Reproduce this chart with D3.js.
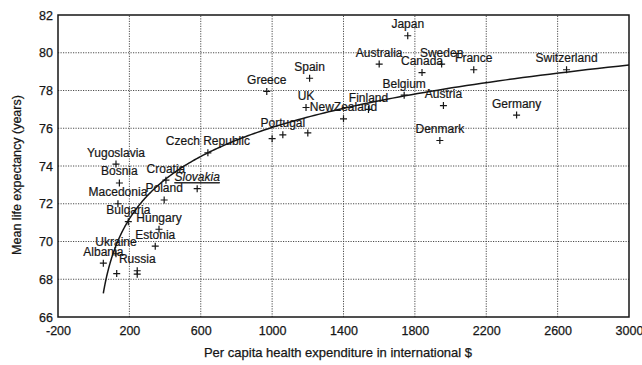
<!DOCTYPE html>
<html>
<head>
<meta charset="utf-8">
<script src="https://cdn.jsdelivr.net/npm/d3@7"></script>
<style>
  html, body { margin: 0; padding: 0; background: #fff; }
  svg { display: block; font-family: "Liberation Sans", Arial, sans-serif; }
</style>
</head>
<body>
<svg id="chart" width="642" height="365"></svg>
<script>
// Countries: per capita health expenditure (international $) and mean life expectancy (years)
const countries = ["Japan", "Australia", "Sweden", "Canada", "France", "Switzerland",
  "Belgium", "Finland", "Austria", "Denmark", "Germany", "Spain", "Greece", "UK",
  "NewZealand", "Portugal", "Czech Republic", "Yugoslavia", "Bosnia", "Croatia",
  "Slovakia", "Poland", "Macedonia", "Bulgaria", "Hungary", "Estonia", "Ukraine",
  "Albania", "Russia", "", "", "", ""];
const expenditure = [1760, 1600, 1950, 1840, 2130, 2650,
  1740, 1540, 1960, 1940, 2370, 1210, 970, 1190,
  1400, 1060, 640, 125, 144, 405,
  580, 395, 136, 194, 366, 345, 125,
  54, 244, 244, 129, 1000, 1200];
const lifeExpectancy = [80.9, 79.4, 79.4, 78.95, 79.1, 79.1,
  77.75, 77.0, 77.2, 75.35, 76.7, 78.65, 77.95, 77.1,
  76.5, 75.65, 74.7, 74.1, 73.1, 73.25,
  72.8, 72.2, 72.0, 71.05, 70.65, 69.75, 69.35,
  68.85, 68.45, 68.27, 68.3, 75.45, 75.75];

// Logarithmic trend: life = intercept + slope * ln(expenditure)
const trendIntercept = 55.25;
const trendSlope = 3.01;
const trendRange = [54, 3000];

// Axis ticks
const xTicks = [-200, 200, 600, 1000, 1400, 1800, 2200, 2600, 3000];
const yTicks = [66, 68, 70, 72, 74, 76, 78, 80, 82];

const margin = { left: 58, top: 15, right: 13, bottom: 48 };
const W = 642, H = 365;
const svg = d3.select("#chart");

const x = d3.scaleLinear().domain([-200, 3000]).range([margin.left, W - margin.right]);
const y = d3.scaleLinear().domain([66, 82]).range([H - margin.bottom, margin.top]);

const ink = "#161616";

// Dotted grid
const grid = svg.append("g");
grid.selectAll("line.h").data(yTicks.slice(1, -1)).join("line")
  .attr("x1", x(-200)).attr("x2", x(3000))
  .attr("y1", d => y(d)).attr("y2", d => y(d))
  .attr("stroke", "#3a3a3a").attr("stroke-width", 0.9)
  .attr("stroke-dasharray", "1.2,1.3");
grid.selectAll("line.v").data(xTicks.slice(1, -1)).join("line")
  .attr("y1", y(66)).attr("y2", y(82))
  .attr("x1", d => x(d)).attr("x2", d => x(d))
  .attr("stroke", "#3a3a3a").attr("stroke-width", 0.9)
  .attr("stroke-dasharray", "1.2,1.3");

// Axes (labels only; the frame is drawn separately)
const xAxis = svg.append("g")
  .attr("transform", `translate(0,${y(66)})`)
  .call(d3.axisBottom(x).tickValues(xTicks).tickSize(0).tickPadding(9).tickFormat(d => String(d)));
const yAxis = svg.append("g")
  .attr("transform", `translate(${x(-200)},0)`)
  .call(d3.axisLeft(y).tickValues(yTicks).tickSize(0).tickPadding(5).tickFormat(d => String(d)));
[xAxis, yAxis].forEach(a => {
  a.select(".domain").remove();
  a.selectAll("text").attr("font-size", 12.5).attr("fill", ink)
    .attr("stroke", ink).attr("stroke-width", 0.25)
    .attr("font-family", "'Liberation Sans', Arial, sans-serif");
});

// Frame
svg.append("rect")
  .attr("x", x(-200)).attr("y", y(82))
  .attr("width", x(3000) - x(-200)).attr("height", y(66) - y(82))
  .attr("fill", "none").attr("stroke", ink).attr("stroke-width", 1.5);

// Trend curve
const trendPts = d3.range(0, 201).map(i => {
  const e = trendRange[0] * Math.pow(trendRange[1] / trendRange[0], i / 200);
  return [e, trendIntercept + trendSlope * Math.log(e)];
});
svg.append("path")
  .datum(trendPts)
  .attr("d", d3.line().x(d => x(d[0])).y(d => y(d[1])))
  .attr("fill", "none").attr("stroke", ink).attr("stroke-width", 1.5);

// Country markers and names
const pts = countries.map((c, i) => ({ name: c, ex: expenditure[i], le: lifeExpectancy[i] }));
const mk = 3.5;
const marks = svg.append("g").selectAll("g").data(pts).join("g")
  .attr("transform", d => `translate(${x(d.ex)},${y(d.le)})`);
marks.append("path")
  .attr("d", `M${-mk},0H${mk}M0,${-mk}V${mk}`)
  .attr("stroke", ink).attr("stroke-width", 1.2);

svg.append("g").selectAll("text").data(pts.filter(d => d.name)).join("text")
  .attr("x", d => x(d.ex))
  .attr("y", d => y(d.le) - 7.5)
  .attr("text-anchor", "middle")
  .attr("font-size", 12)
  .attr("fill", ink)
  .attr("stroke", ink).attr("stroke-width", 0.2)
  .attr("font-style", d => d.name === "Slovakia" ? "italic" : null)
  .attr("text-decoration", d => d.name === "Slovakia" ? "underline" : null)
  .text(d => d.name);

// Axis titles
svg.append("text")
  .attr("x", 338).attr("y", 357)
  .attr("text-anchor", "middle").attr("font-size", 13).attr("fill", ink)
  .attr("stroke", ink).attr("stroke-width", 0.25)
  .text("Per capita health expenditure in international $");
svg.append("text")
  .attr("transform", `translate(21,${(y(66) + y(82)) / 2 + 9}) rotate(-90)`)
  .attr("text-anchor", "middle").attr("font-size", 12.5).attr("fill", ink)
  .attr("stroke", ink).attr("stroke-width", 0.25)
  .text("Mean life expectancy (years)");
</script>
</body>
</html>
